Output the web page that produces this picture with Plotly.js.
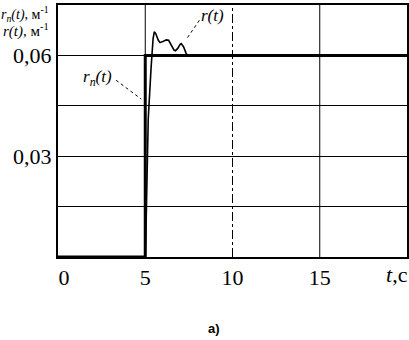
<!DOCTYPE html>
<html><head><meta charset="utf-8">
<script src="https://cdn.plot.ly/plotly-3.0.1.min.js"></script>
<style>body{margin:0;background:#fff}#c{width:409px;height:340px}</style>
</head><body><div id="c"></div>
<script>
// r_п(t): program (reference) signal, step at t = 5 s
const tProg = [0, 5, 5, 20];
const rProg = [0, 0, 0.06, 0.06];
// r(t): actual response with damped oscillation
const tResp = [0, 5.0, 5.05, 5.1, 5.17, 5.33, 5.45, 5.52, 5.6, 5.75, 5.85, 6.0, 6.2, 6.34, 6.5, 6.65, 6.73, 6.85, 7.0, 7.06, 7.2, 7.35, 7.44, 20];
const rResp = [0, 0, 0.01, 0.025, 0.041, 0.056, 0.065, 0.067, 0.0665, 0.0645, 0.0638, 0.0641, 0.0646, 0.0645, 0.063, 0.0616, 0.0614, 0.062, 0.0633, 0.0635, 0.0625, 0.0605, 0.06, 0.06];
// axis ticks
const yTickVals = [0.015, 0.03, 0.045, 0.06];
const yTickText = ["", "0,03", "", "0,06"];
const xTickVals = [0.35, 5, 10, 15];
const xTickText = ["0", "5", "10", "15"];
const xAxisLabel = "<i>t</i>,c";
const xAxisLabelPos = 19.45;
const xGridSolid = [5, 15];
const xGridDashDot = [10];

const serif = "Liberation Serif, Times New Roman, serif";

const traces = [
  {x: tResp, y: rResp, mode: "lines", line: {color: "#000", width: 1.6}, cliponaxis: false, hoverinfo: "skip"},
  {x: tProg, y: rProg, mode: "lines", line: {color: "#000", width: 3}, cliponaxis: false, hoverinfo: "skip"}
];

const shapes = [];
xGridSolid.forEach(v => shapes.push({type: "line", xref: "x", yref: "paper", x0: v, x1: v, y0: 0, y1: 1, line: {color: "#000", width: 1}, layer: "below"}));
xGridDashDot.forEach(v => shapes.push({type: "line", xref: "x", yref: "paper", x0: v, x1: v, y0: 0, y1: 1, line: {color: "#000", width: 1, dash: "dashdot"}, layer: "below"}));
// dotted leader lines
shapes.push({type: "line", xref: "x", yref: "y", x0: 3.33, y0: 0.0526, x1: 4.77, y1: 0.047, line: {color: "#000", width: 1, dash: "dot"}});
shapes.push({type: "line", xref: "x", yref: "y", x0: 7.42, y0: 0.0653, x1: 8.11, y1: 0.0705, line: {color: "#000", width: 1, dash: "dot"}});

const annotations = [
  {xref: "x", yref: "y", x: 2.29, y: 0.0532, text: "<i>r</i><sub><i>п</i></sub><i>(t)</i>", showarrow: false, font: {family: serif, size: 17, color: "#000"}},
  {xref: "x", yref: "y", x: 8.85, y: 0.0718, text: "<i>r(t)</i>", showarrow: false, font: {family: serif, size: 17, color: "#000"}},
  {xref: "paper", yref: "paper", x: -0.02, y: 0.966, xanchor: "right", yanchor: "middle", text: "<i>r</i><sub><i>п</i></sub><i>(t)</i>, м<sup>-1</sup>", showarrow: false, font: {family: serif, size: 14, color: "#000"}},
  {xref: "paper", yref: "paper", x: -0.02, y: 0.898, xanchor: "right", yanchor: "middle", text: "<i>r(t)</i>, м<sup>-1</sup>", showarrow: false, font: {family: serif, size: 15, color: "#000"}},
  {xref: "x", yref: "paper", x: xAxisLabelPos, y: -0.07, xanchor: "center", yanchor: "middle", text: xAxisLabel, showarrow: false, font: {family: serif, size: 22, color: "#000"}},
  {xref: "paper", yref: "paper", x: 0.446, y: -0.285, xanchor: "center", yanchor: "middle", text: "<b>a)</b>", showarrow: false, font: {family: "Liberation Sans, Arial, sans-serif", size: 13, color: "#000"}}
];

const layout = {
  width: 409, height: 340,
  margin: {l: 58, r: 2, t: 5, b: 83},
  paper_bgcolor: "#fff", plot_bgcolor: "#fff",
  showlegend: false,
  xaxis: {range: [0, 20], tickvals: xTickVals, ticktext: xTickText, showgrid: false, zeroline: false,
          showline: true, mirror: true, linecolor: "#000", linewidth: 2, ticks: "",
          tickfont: {family: serif, size: 22, color: "#000"}},
  yaxis: {range: [0, 0.075], tickvals: yTickVals, ticktext: yTickText, showgrid: true, gridcolor: "#000", gridwidth: 1,
          zeroline: false, showline: true, mirror: true, linecolor: "#000", linewidth: 2, ticks: "",
          tickfont: {family: serif, size: 22, color: "#000"}},
  shapes: shapes,
  annotations: annotations
};

Plotly.newPlot("c", traces, layout, {staticPlot: true, displayModeBar: false});
</script></body></html>
